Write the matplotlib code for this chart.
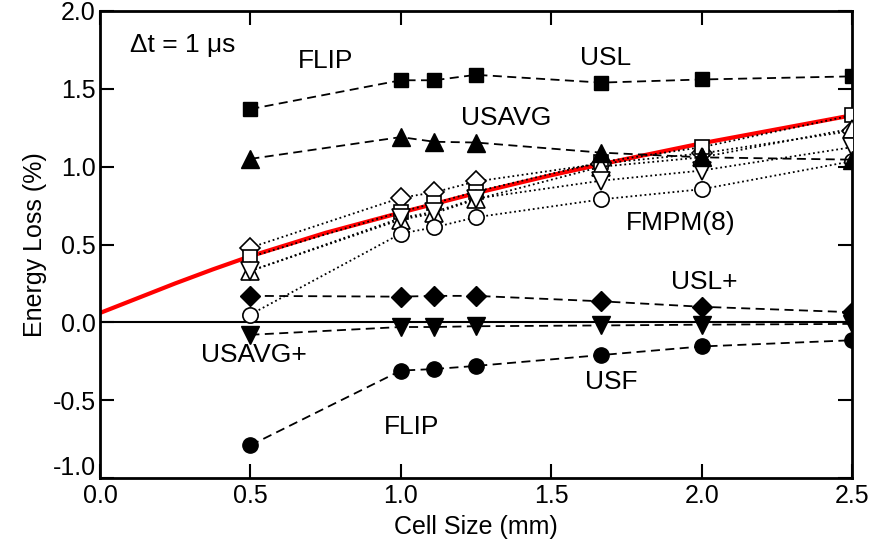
import matplotlib
matplotlib.use("Agg")
import matplotlib.pyplot as plt
import matplotlib.transforms as mtransforms

plt.rcParams['font.family'] = ['Liberation Sans', 'DejaVu Sans']

cell = [0.5, 1.0, 1.111, 1.25, 1.667, 2.0, 2.5]

# filled series (dashed)
usl = [1.37, 1.555, 1.555, 1.59, 1.54, 1.56, 1.58]
usavg = [1.05, 1.19, 1.16, 1.155, 1.09, 1.06, 1.045]
usl_plus = [0.17, 0.165, 0.17, 0.17, 0.135, 0.10, 0.065]
usavg_plus = [-0.08, -0.03, -0.03, -0.025, -0.02, -0.015, -0.01]
usf = [-0.79, -0.31, -0.30, -0.28, -0.21, -0.155, -0.115]

# open series (dotted) - FMPM variants
fm_diamond = [0.48, 0.80, 0.835, 0.905, 1.02, 1.085, 1.23]
fm_square = [0.42, 0.71, 0.765, 0.84, 1.03, 1.125, 1.33]
fm_up = [0.33, 0.66, 0.70, 0.79, 1.00, 1.06, 1.245]
fm_down = [0.33, 0.67, 0.71, 0.795, 0.91, 0.975, 1.125]
fm_circle = [0.05, 0.57, 0.61, 0.675, 0.79, 0.855, 1.035]

# red fitted curve
fit_x = [0.0, 0.125, 0.25, 0.375, 0.5, 0.75, 1.0, 1.25, 1.5, 1.75, 2.0, 2.25, 2.5]
fit_y = [0.06, 0.155, 0.25, 0.34, 0.425, 0.575, 0.705, 0.83, 0.945, 1.05, 1.15, 1.24, 1.33]

xticks = [0.0, 0.5, 1.0, 1.5, 2.0, 2.5]
yticks = [-1.0, -0.5, 0.0, 0.5, 1.0, 1.5, 2.0]

fig = plt.figure(figsize=(8.73, 5.44), dpi=100)
ax = fig.add_axes([0.1145, 0.1213, 0.8615, 0.8585])

ax.axhline(0, color='black', lw=1.5, zorder=1)
ax.plot(fit_x, fit_y, color='red', lw=3, zorder=2, solid_joinstyle='round')

sizes = {'s': 10, 'o': 11, '^': 12.5, 'v': 12.5, 'D': 10}
for ys, m in [(fm_diamond, 'D'), (fm_square, 's'), (fm_up, '^'), (fm_down, 'v'), (fm_circle, 'o')]:
    ax.plot(cell, ys, ls=(0, (1, 1.6)), color='black', lw=1.3, marker=m,
            markersize=sizes[m], markerfacecolor='white', markeredgecolor='black',
            markeredgewidth=1.2, zorder=3)

for ys, m in [(usl, 's'), (usavg, '^'), (usl_plus, 'D'), (usavg_plus, 'v'), (usf, 'o')]:
    ax.plot(cell, ys, ls=(0, (5, 3)), color='black', lw=1.3, marker=m,
            markersize=sizes[m], markerfacecolor='black', markeredgecolor='black',
            zorder=4)

ax.set_xlim(0, 2.5)
ax.set_ylim(-1.0, 2.0)
ax.set_xticks(xticks)
ax.set_yticks(yticks)
ax.set_xticklabels([f"{v:.1f}" for v in xticks])
ax.set_yticklabels([f"{v:.1f}" for v in yticks])
ax.tick_params(direction='in', length=10, width=1.5, top=True, right=True, labelsize=18)
ax.tick_params(axis='x', pad=4)
ax.tick_params(axis='y', pad=3)
for s in ax.spines.values():
    s.set_linewidth(2)

# nudge the bottom y tick label upward so it clears the x tick labels
lab = ax.get_yticklabels()[0]
lab.set_transform(lab.get_transform() + mtransforms.ScaledTranslation(0, 9 / 72, fig.dpi_scale_trans))

ax.set_xlabel('Cell Size (mm)', fontsize=18, labelpad=5)
ax.set_ylabel('Energy Loss (%)', fontsize=18, labelpad=4)

tfs = 19
ax.text(0.1, 1.78, 'Δt = 1 μs', fontsize=tfs, ha='left', va='center')
ax.text(0.75, 1.68, 'FLIP', fontsize=tfs, ha='center', va='center')
ax.text(1.68, 1.70, 'USL', fontsize=tfs, ha='center', va='center')
ax.text(1.35, 1.31, 'USAVG', fontsize=tfs, ha='center', va='center')
ax.text(1.93, 0.64, 'FMPM(8)', fontsize=tfs, ha='center', va='center')
ax.text(2.01, 0.26, 'USL+', fontsize=tfs, ha='center', va='center')
ax.text(0.51, -0.21, 'USAVG+', fontsize=tfs, ha='center', va='center')
ax.text(1.70, -0.385, 'USF', fontsize=tfs, ha='center', va='center')
ax.text(1.035, -0.67, 'FLIP', fontsize=tfs, ha='center', va='center')

fig.savefig('out.png', dpi=100)
